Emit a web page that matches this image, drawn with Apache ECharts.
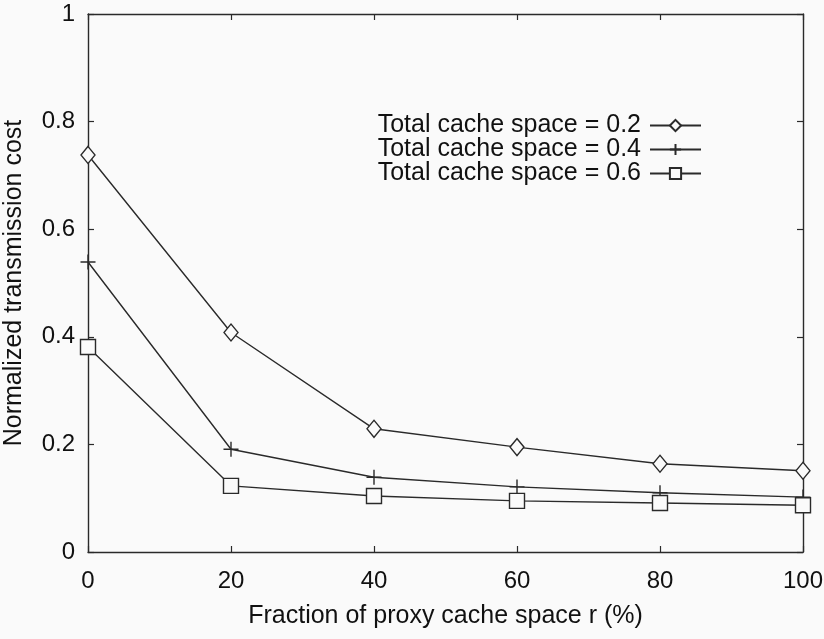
<!DOCTYPE html>
<html>
<head>
<meta charset="utf-8">
<script src="https://cdn.jsdelivr.net/npm/echarts@6/dist/echarts.min.js"></script>
<style>
  html, body { margin: 0; padding: 0; background: #fafafa; }
  #chart { width: 824px; height: 639px; }
</style>
</head>
<body>
<div id="chart"></div>
<script>
// Fraction of proxy cache space r (%)
const fractions = [0, 20, 40, 60, 80, 100];
// Normalized transmission cost for each total cache space setting
const cost02 = [0.738, 0.408, 0.229, 0.195, 0.164, 0.151];
const cost04 = [0.539, 0.191, 0.139, 0.121, 0.110, 0.102];
const cost06 = [0.381, 0.123, 0.104, 0.095, 0.091, 0.087];
const seriesNames = [
  'Total cache space = 0.2',
  'Total cache space = 0.4',
  'Total cache space = 0.6'
];
const xTicks = [0, 20, 40, 60, 80, 100];
const yTicks = [0, 0.2, 0.4, 0.6, 0.8, 1];

const ink = '#2a2a2a';
const font = 'Liberation Sans, Arial, sans-serif';
const plusPath = 'path://M0,-10L0,10M-10,0L10,0';

function pairs(vals) { return fractions.map((x, i) => [x, vals[i]]); }

function makeSeries(name, vals, symbol, size) {
  return {
    name: name,
    type: 'line',
    data: pairs(vals),
    symbol: symbol,
    symbolSize: size,
    showAllSymbol: true,
    lineStyle: { color: ink, width: 1.4 },
    itemStyle: { color: '#fafafa', borderColor: ink, borderWidth: 1.4 },
    emphasis: { disabled: true },
    animation: false,
    z: 3
  };
}

const chart = echarts.init(document.getElementById('chart'), null, { renderer: 'canvas' });

const axisCommon = {
  min: 0,
  axisLine: { show: true, onZero: false, lineStyle: { color: ink, width: 1.4 } },
  axisTick: { show: true, inside: true, length: 6, lineStyle: { color: ink, width: 1.2 } },
  splitLine: { show: false }
};

chart.setOption({
  backgroundColor: '#fafafa',
  animation: false,
  grid: { left: 88, right: 21, top: 14, bottom: 87, containLabel: false, outerBoundsMode: 'none' },
  legend: {
    orient: 'vertical',
    right: 117,
    top: 108,
    align: 'right',
    itemWidth: 51,
    itemHeight: 14,
    itemGap: -1,
    data: seriesNames,
    textStyle: { fontFamily: font, fontSize: 25, color: '#111', padding: [0, 4, 0, 0] },
    selectedMode: false
  },
  xAxis: [
    Object.assign({}, axisCommon, {
      type: 'value', position: 'bottom', max: 100, interval: 20,
      name: 'Fraction of proxy cache space r (%)',
      nameLocation: 'middle', nameGap: 52,
      nameTextStyle: { fontFamily: font, fontSize: 25, color: '#111' },
      axisLabel: { fontFamily: font, fontSize: 24, color: '#111', margin: 17,
        formatter: v => xTicks.includes(v) ? String(v) : '' }
    }),
    Object.assign({}, axisCommon, {
      type: 'value', position: 'top', max: 100, interval: 20,
      axisLabel: { show: false }
    })
  ],
  yAxis: [
    Object.assign({}, axisCommon, {
      type: 'value', position: 'left', max: 1, interval: 0.2,
      name: 'Normalized transmission cost',
      nameLocation: 'middle', nameGap: 61,
      nameTextStyle: { fontFamily: font, fontSize: 25, color: '#111' },
      axisLabel: { fontFamily: font, fontSize: 24, color: '#111', margin: 13,
        formatter: v => {
          const t = yTicks.find(k => Math.abs(k - v) < 1e-9);
          return t === undefined ? '' : String(t);
        } }
    }),
    Object.assign({}, axisCommon, {
      type: 'value', position: 'right', max: 1, interval: 0.2,
      axisLabel: { show: false }
    })
  ],
  series: [
    makeSeries(seriesNames[0], cost02, 'diamond', [14, 17]),
    makeSeries(seriesNames[1], cost04, plusPath, 15),
    makeSeries(seriesNames[2], cost06, 'rect', 15)
  ]
});
</script>
</body>
</html>
